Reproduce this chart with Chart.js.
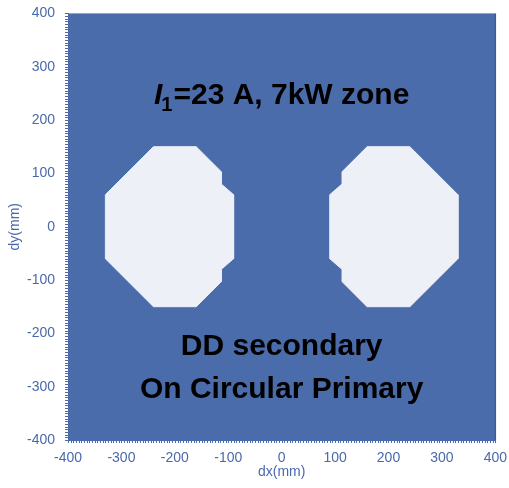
<!DOCTYPE html>
<html>
<head>
<meta charset="utf-8">
<script src="https://cdn.jsdelivr.net/npm/chart.js@4.4.1/dist/chart.umd.min.js"></script>
<style>
  html, body { margin: 0; padding: 0; background: #ffffff; }
  #wrap { width: 509px; height: 488px; }
</style>
</head>
<body>
<div id="wrap"><canvas id="zoneChart"></canvas></div>
<script>
// zone outlines (dx, dy in mm) for the two DD coils
const leftX  = [-240, -160, -113, -113, -90, -90, -113, -113, -160, -240, -330, -330, -240];
const leftY  = [150, 150, 103, 80, 60, -60, -80, -103, -150, -150, -60, 60, 150];
const rightX = [160, 240, 330, 330, 240, 160, 113, 113, 90, 90, 113, 113, 160];
const rightY = [150, 150, 60, -60, -150, -150, -103, -80, -60, 60, 80, 103, 150];

const axisMin = -400;
const axisMax = 400;
const tickStep = 100;

// labels placed in data units
const headline = { x: 0, y: 245 };
const captionLines = ['DD secondary', 'On Circular Primary'];
const captionY = [-225, -306];

const blue = '#4b6caa';
const tickBlue = '#4a69ad';
const zoneFill = '#eef0f8';

function toPoints(xs, ys) {
  return xs.map((x, i) => ({ x: x, y: ys[i] }));
}

// blue plot background, minor ticks and text labels
const zonePlot = {
  id: 'zonePlot',
  beforeDatasetsDraw(chart) {
    const { ctx, chartArea: a } = chart;
    ctx.save();
    ctx.fillStyle = blue;
    ctx.fillRect(a.left, a.top, a.right - a.left, a.bottom - a.top);
    ctx.strokeStyle = '#3d5c9c';
    ctx.lineWidth = 1.5;
    ctx.beginPath();
    ctx.moveTo(a.right, a.top);
    ctx.lineTo(a.right, a.bottom);
    ctx.stroke();
    ctx.restore();
  },
  afterDatasetsDraw(chart) {
    const { ctx, chartArea: a, scales } = chart;
    const sx = scales.x, sy = scales.y;
    ctx.save();
    // minor ticks along left and bottom edges
    ctx.strokeStyle = tickBlue;
    ctx.lineWidth = 1;
    ctx.beginPath();
    for (let v = axisMin; v <= axisMax; v += 5) {
      const py = Math.round(sy.getPixelForValue(v)) + 0.5;
      ctx.moveTo(a.left - 3, py);
      ctx.lineTo(a.left, py);
      const px = Math.round(sx.getPixelForValue(v)) + 0.5;
      ctx.moveTo(px, a.bottom);
      ctx.lineTo(px, a.bottom + 3);
    }
    ctx.stroke();

    // headline: italic I with subscript 1
    ctx.fillStyle = '#000000';
    ctx.textBaseline = 'middle';
    ctx.textAlign = 'left';
    const big = 'bold 30px "Liberation Sans", Arial, sans-serif';
    const ital = 'italic bold 30px "Liberation Sans", Arial, sans-serif';
    const sub = 'bold 20px "Liberation Sans", Arial, sans-serif';
    const rest = '=23 A, 7kW zone';
    ctx.font = ital; const wI = ctx.measureText('I').width;
    ctx.font = sub; const w1 = ctx.measureText('1').width;
    ctx.font = big; const wR = ctx.measureText(rest).width;
    let hx = sx.getPixelForValue(headline.x) - (wI + w1 + wR) / 2;
    const hy = sy.getPixelForValue(headline.y);
    ctx.font = ital; ctx.fillText('I', hx, hy); hx += wI;
    ctx.font = sub; ctx.fillText('1', hx - 1, hy + 9); hx += w1;
    ctx.font = big; ctx.fillText(rest, hx, hy);

    // caption
    ctx.textAlign = 'center';
    captionLines.forEach((t, i) => {
      ctx.fillText(t, sx.getPixelForValue(0), sy.getPixelForValue(captionY[i]));
    });
    ctx.restore();
  }
};

const tickFont = { family: '"Liberation Sans", Arial, sans-serif', size: 14 };

new Chart(document.getElementById('zoneChart'), {
  type: 'scatter',
  data: {
    datasets: [{
      label: 'left coil',
      data: toPoints(leftX, leftY),
      showLine: true,
      fill: 'shape',
      backgroundColor: zoneFill,
      borderColor: zoneFill,
      borderWidth: 1,
      pointRadius: 0,
      tension: 0
    }, {
      label: 'right coil',
      data: toPoints(rightX, rightY),
      showLine: true,
      fill: 'shape',
      backgroundColor: zoneFill,
      borderColor: zoneFill,
      borderWidth: 1,
      pointRadius: 0,
      tension: 0
    }]
  },
  options: {
    responsive: true,
    maintainAspectRatio: false,
    animation: false,
    layout: { padding: { left: 0, top: 13, right: 12, bottom: 0 } },
    plugins: {
      legend: { display: false },
      tooltip: { enabled: false }
    },
    scales: {
      x: {
        type: 'linear',
        min: axisMin,
        max: axisMax,
        grid: { display: false },
        border: { display: true, color: tickBlue, width: 1 },
        ticks: { stepSize: tickStep, color: tickBlue, font: tickFont, padding: 2, maxRotation: 0 },
        title: { display: true, text: 'dx(mm)', color: tickBlue, font: tickFont, padding: { top: 0, bottom: 7 } },
        afterFit(scale) { scale.height = 48; }
      },
      y: {
        type: 'linear',
        min: axisMin,
        max: axisMax,
        grid: { display: false },
        border: { display: true, color: tickBlue, width: 1 },
        ticks: { stepSize: tickStep, color: tickBlue, font: tickFont, padding: 5 },
        title: { display: true, text: 'dy(mm)', color: tickBlue, font: tickFont, padding: { top: 7, bottom: 0 } },
        afterFit(scale) { scale.width = 68; }
      }
    }
  },
  plugins: [zonePlot]
});
</script>
</body>
</html>
